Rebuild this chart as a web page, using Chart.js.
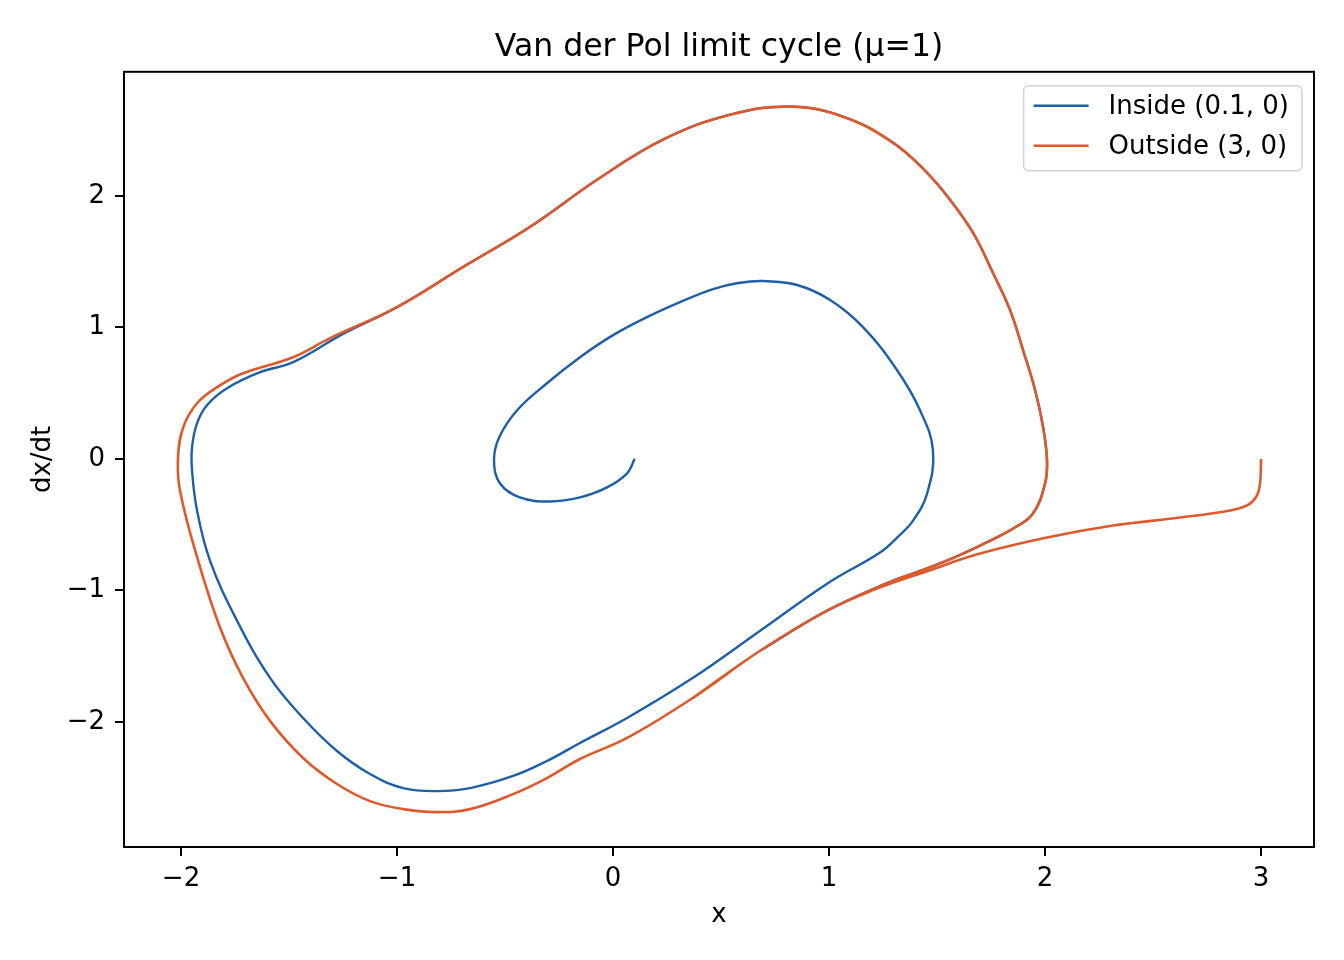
<!DOCTYPE html>
<html>
<head>
<meta charset="utf-8">
<title>Van der Pol limit cycle</title>
<script src="https://cdn.jsdelivr.net/npm/chart.js@4/dist/chart.umd.min.js"></script>
<style>
    html, body { margin: 0; padding: 0; background: #fff; }
    canvas { display: block; }
</style>
</head>
<body>
<canvas id="phaseChart" width="1344" height="960" style="width:1344px;height:960px"></canvas>
<script>
// trajectories (x, dx/dt)
var insideX = [0.10, 0.065, -0.028, -0.153, -0.292, -0.431, -0.523, -0.551, -0.527, -0.444,
    -0.306, -0.153, 0.0, 0.157, 0.31, 0.463, 0.58, 0.694, 0.852, 1.005,
    1.157, 1.315, 1.421, 1.481, 1.454, 1.389, 1.315, 1.236, 0.991, 0.681,
    0.37, 0.065, -0.153, -0.306, -0.463, -0.662, -0.815, -0.972, -1.125, -1.278,
    -1.435, -1.588, -1.741, -1.866, -1.926, -1.949, -1.949, -1.926, -1.88, -1.787,
    -1.634, -1.481, -1.25, -1.0, -0.694, -0.384, -0.074, 0.231, 0.542, 0.819,
    1.065, 1.296, 1.454, 1.56, 1.667, 1.759, 1.838, 1.898, 1.954, 1.991,
    2.009, 2.0, 1.944, 1.852, 1.699, 1.546, 1.389, 1.296, 0.991, 0.681];
var insideY = [0.0, -0.11, -0.217, -0.293, -0.324, -0.293, -0.187, -0.011, 0.164, 0.37,
    0.575, 0.773, 0.941, 1.078, 1.192, 1.291, 1.337, 1.352, 1.322, 1.208,
    1.002, 0.674, 0.37, 0.065, -0.263, -0.469, -0.598, -0.712, -0.949, -1.307,
    -1.665, -1.97, -2.16, -2.297, -2.411, -2.503, -2.526, -2.503, -2.396, -2.221,
    -1.97, -1.665, -1.23, -0.773, -0.392, -0.088, 0.088, 0.27, 0.408, 0.537,
    0.659, 0.735, 0.95, 1.154, 1.459, 1.764, 2.122, 2.427, 2.617, 2.678,
    2.602, 2.404, 2.175, 1.97, 1.718, 1.413, 1.131, 0.827, 0.522, 0.24,
    -0.011, -0.187, -0.415, -0.53, -0.659, -0.773, -0.872, -0.926, -1.154, -1.459];

var outsideX = [3.0, 2.995, 2.977, 2.935, 2.856, 2.625, 2.315, 2.009, 1.699, 1.46,
    1.2, 0.991, 0.681, 0.37, 0.065, -0.153, -0.306, -0.463, -0.662, -0.815,
    -0.972, -1.125, -1.278, -1.435, -1.588, -1.713, -1.819, -1.921, -2.005, -2.014,
    -1.99, -1.926, -1.833, -1.713, -1.481, -1.31, -1.0, -0.694, -0.384, -0.074,
    0.231, 0.542, 0.819, 1.065, 1.296, 1.454, 1.56, 1.667, 1.759, 1.838,
    1.898, 1.954, 1.991, 2.009, 2.0, 1.944, 1.852, 1.699, 1.546, 1.389,
    1.296, 0.991, 0.681, 0.37];
var outsideY = [0.0, -0.19, -0.29, -0.354, -0.392, -0.446, -0.507, -0.598, -0.72, -0.85,
    -1.0, -1.154, -1.459, -1.817, -2.122, -2.282, -2.427, -2.549, -2.663, -2.686,
    -2.663, -2.602, -2.472, -2.274, -1.992, -1.665, -1.284, -0.773, -0.24, 0.01,
    0.24, 0.423, 0.545, 0.651, 0.773, 0.918, 1.154, 1.459, 1.764, 2.122,
    2.427, 2.617, 2.678, 2.602, 2.404, 2.175, 1.97, 1.718, 1.413, 1.131,
    0.827, 0.522, 0.24, -0.011, -0.187, -0.415, -0.53, -0.659, -0.773, -0.872,
    -0.926, -1.154, -1.459, -1.817];

var xTicks = [-2, -1, 0, 1, 2, 3];
var yTicks = [-2, -1, 0, 1, 2];

var seriesLabels = ['Inside (0.1, 0)', 'Outside (3, 0)'];
var seriesColors = ['#1f5fa6', '#de5a2c'];

function toPoints(xs, ys) {
    return xs.map(function(x, i) { return { x: x, y: ys[i] }; });
}

function tickText(v) {
    return v < 0 ? '\u2212' + Math.abs(v) : String(v);
}

Chart.defaults.font.family = '"DejaVu Sans", sans-serif';
Chart.defaults.color = '#000';

// matplotlib-like frame + boxed legend in the upper right
var framePlugin = {
    id: 'frame',
    afterDraw: function(chart) {
        var ctx = chart.ctx;
        var a = chart.chartArea;
        ctx.save();
        ctx.strokeStyle = '#000';
        ctx.lineWidth = 2;
        ctx.strokeRect(a.left, a.top, a.right - a.left, a.bottom - a.top);

        ctx.font = '26px "DejaVu Sans", sans-serif';
        var sets = chart.data.datasets;
        var textW = 0;
        sets.forEach(function(ds) { textW = Math.max(textW, ctx.measureText(ds.label).width); });
        var w = 85 + textW + 13;
        var h = 85;
        var left = a.right - 12 - w;
        var top = a.top + 14;

        ctx.beginPath();
        ctx.roundRect(left, top, w, h, 5);
        ctx.fillStyle = 'rgba(255,255,255,0.8)';
        ctx.fill();
        ctx.strokeStyle = '#d3d3d3';
        ctx.lineWidth = 1.5;
        ctx.stroke();

        sets.forEach(function(ds, i) {
            var y = top + 20 + i * 40;
            ctx.beginPath();
            ctx.moveTo(left + 10, y);
            ctx.lineTo(left + 65, y);
            ctx.strokeStyle = ds.borderColor;
            ctx.lineWidth = 2.4;
            ctx.stroke();
            ctx.fillStyle = '#000';
            ctx.textBaseline = 'middle';
            ctx.textAlign = 'left';
            ctx.fillText(ds.label, left + 85, y + 1);
        });
        ctx.restore();
    }
};

var ctx = document.getElementById('phaseChart').getContext('2d');
new Chart(ctx, {
    type: 'scatter',
    data: {
        datasets: [{
            label: seriesLabels[0],
            data: toPoints(insideX, insideY),
            borderColor: seriesColors[0],
            backgroundColor: seriesColors[0],
            borderWidth: 2.4,
            showLine: true,
            pointRadius: 0,
            tension: 0.4,
            order: 1
        }, {
            label: seriesLabels[1],
            data: toPoints(outsideX, outsideY),
            borderColor: seriesColors[1],
            backgroundColor: seriesColors[1],
            borderWidth: 2.6,
            showLine: true,
            pointRadius: 0,
            tension: 0.4,
            order: 0
        }]
    },
    options: {
        responsive: false,
        devicePixelRatio: 1,
        animation: false,
        layout: { padding: { left: 0, right: 30, top: 0, bottom: 0 } },
        plugins: {
            legend: { display: false },
            tooltip: { enabled: false },
            title: {
                display: true,
                text: 'Van der Pol limit cycle (\u03bc=1)',
                fullSize: false,
                font: { size: 31.5, weight: 'normal' },
                padding: { top: 29, bottom: 5 }
            }
        },
        scales: {
            x: {
                type: 'linear',
                min: -2.264,
                max: 3.245,
                afterBuildTicks: function(s) { s.ticks = xTicks.map(function(v) { return { value: v }; }); },
                afterFit: function(s) { s.height = 113; },
                ticks: { font: { size: 26 }, padding: 8, callback: tickText },
                grid: { drawOnChartArea: false, drawTicks: true, tickLength: 9, color: '#000', lineWidth: 2 },
                border: { color: '#000', width: 2 },
                title: { display: true, text: 'x', font: { size: 26 }, padding: { top: 0, bottom: 29 } }
            },
            y: {
                type: 'linear',
                min: -2.951,
                max: 2.943,
                afterBuildTicks: function(s) { s.ticks = yTicks.map(function(v) { return { value: v }; }); },
                afterFit: function(s) { s.width = 124; },
                ticks: { font: { size: 26 }, padding: 10, callback: tickText },
                grid: { drawOnChartArea: false, drawTicks: true, tickLength: 9, color: '#000', lineWidth: 2 },
                border: { color: '#000', width: 2 },
                title: { display: true, text: 'dx/dt', font: { size: 26 }, padding: { top: 28, bottom: 0 } }
            }
        }
    },
    plugins: [framePlugin]
});
</script>
</body>
</html>
